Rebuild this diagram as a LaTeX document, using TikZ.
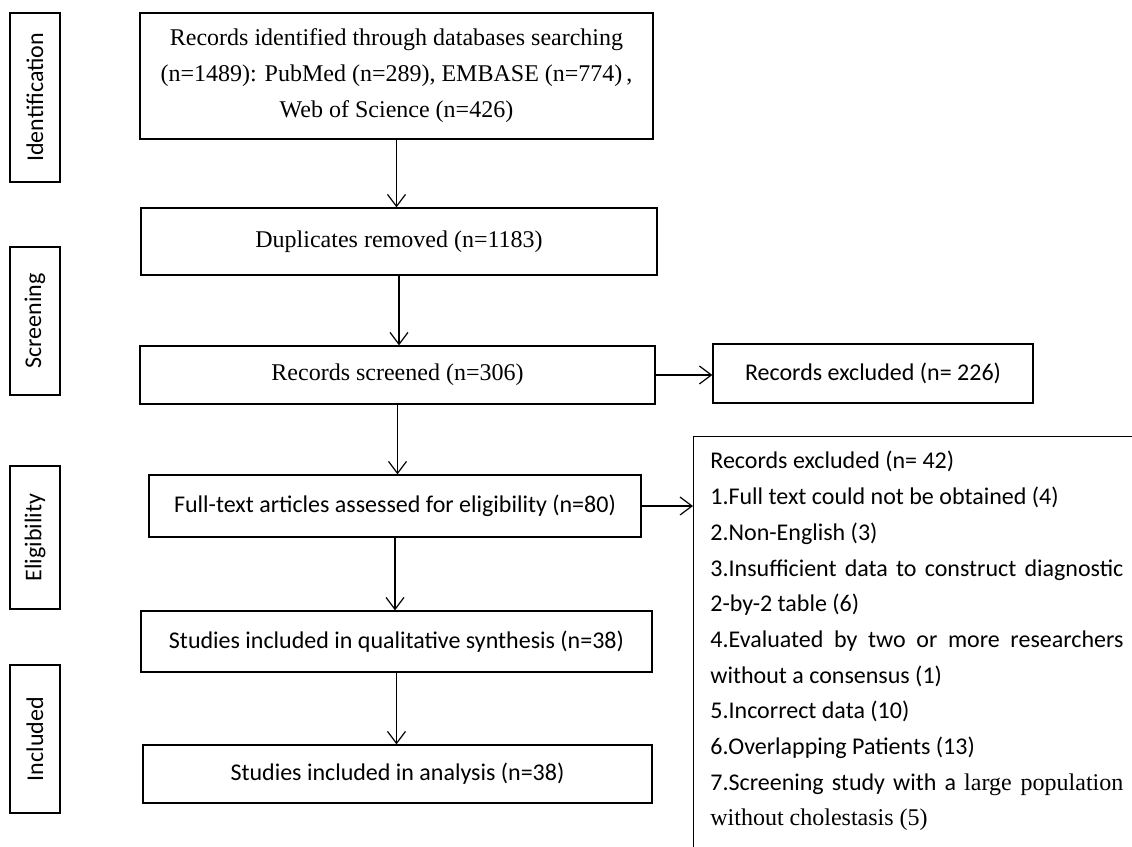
\documentclass[tikz,border=0pt]{standalone}
\usepackage{fontspec}
\setmainfont{Carlito}
\newfontfamily\simfont{Liberation Serif}
\usetikzlibrary{arrows.meta,positioning}

\begin{document}
\begin{tikzpicture}[x=0.5pt,y=-0.5pt,>={Straight Barb[length=6pt,width=9pt]}]
    \tikzstyle{box}=[rectangle,draw,line width=0.6pt,inner sep=0pt,font=\fontsize{12}{18}\selectfont]
    \tikzstyle{serif}=[box,font=\simfont\fontsize{12}{18}\selectfont]
    \tikzstyle{phase}=[box,minimum height=25pt,rotate=90]   % stage labels on the left
    \tikzstyle{lst}=[inner sep=0pt,text width=206.5pt,align=justify,
                     font=\fontsize{12}{17.85}\selectfont]

    \tikzstyle{every edge}=[line width=0.6pt,draw]

    \useasboundingbox (0,0) rectangle (1132,847);
    \clip (0,0) rectangle (1132,847);

    % stages
    \node[phase,minimum width=84.5pt] (idn) at (35,97.5)  {Identification};
    \node[phase,minimum width=74pt]   (scr) at (35,321)   {Screening};
    \node[phase,minimum width=71.5pt] (elg) at (35,537.5) {Eligibility};
    \node[phase,minimum width=74pt]   (inc) at (35,739)   {Included};

    % main column
    \node[serif,minimum width=256.5pt,minimum height=63pt,align=center] (rec) at (396.5,76)
        {Records identified through databases searching\\(n=1489): PubMed (n=289), EMBASE (n=774)\,,\\Web of Science (n=426)};
    \node[serif,minimum width=258pt,minimum height=33.5pt] (dup) at (399,241.5) {Duplicates removed (n=1183)};
    \node[serif,minimum width=257.5pt,minimum height=29pt] (scrn) at (397.5,375) {Records screened (n=306)};
    \node[box,minimum width=246pt,minimum height=31pt] (full) at (395,506) {Full-text articles assessed for eligibility (n=80)};
    \node[box,minimum width=255.5pt,minimum height=30.5pt] (qual) at (396.5,641.5) {Studies included in qualitative synthesis (n=38)};
    \node[box,minimum width=254.5pt,minimum height=29pt] (anal) at (397.5,774) {Studies included in analysis (n=38)};

    % exclusions
    \node[box,minimum width=160pt,minimum height=29.5pt] (excl) at (873,373.5) {Records excluded (n= 226)};
    \node[box,anchor=north west,minimum width=233.5pt,minimum height=220pt] (excl2) at (693,436) {};
    \node[lst,anchor=north west] (reasons) at (710,451)
        {Records excluded (n= 42)\par
         1.Full text could not be obtained (4)\par
         2.Non-English (3)\par
         3.Insufficient data to construct diagnostic\linebreak 2-by-2 table (6)\par
         4.Evaluated by two or more researchers\linebreak without a consensus (1)\par
         5.Incorrect data (10)\par
         6.Overlapping Patients (13)\par
         7.Screening study with a {\simfont large population}\linebreak {\simfont without cholestasis (5)}};

    \path[->] (rec)  edge (rec |- dup.north);
    \path[->] (dup)  edge (dup |- scrn.north);
    \path[->] (scrn) edge (scrn |- full.north);
    \path[->] (full) edge (full |- qual.north);
    \path[->] (qual) edge (qual |- anal.north);
    \path[->] (scrn.east) edge (scrn.east -| excl.west);
    \path[->] (full.east) edge (full.east -| excl2.west);
\end{tikzpicture}
\end{document}
